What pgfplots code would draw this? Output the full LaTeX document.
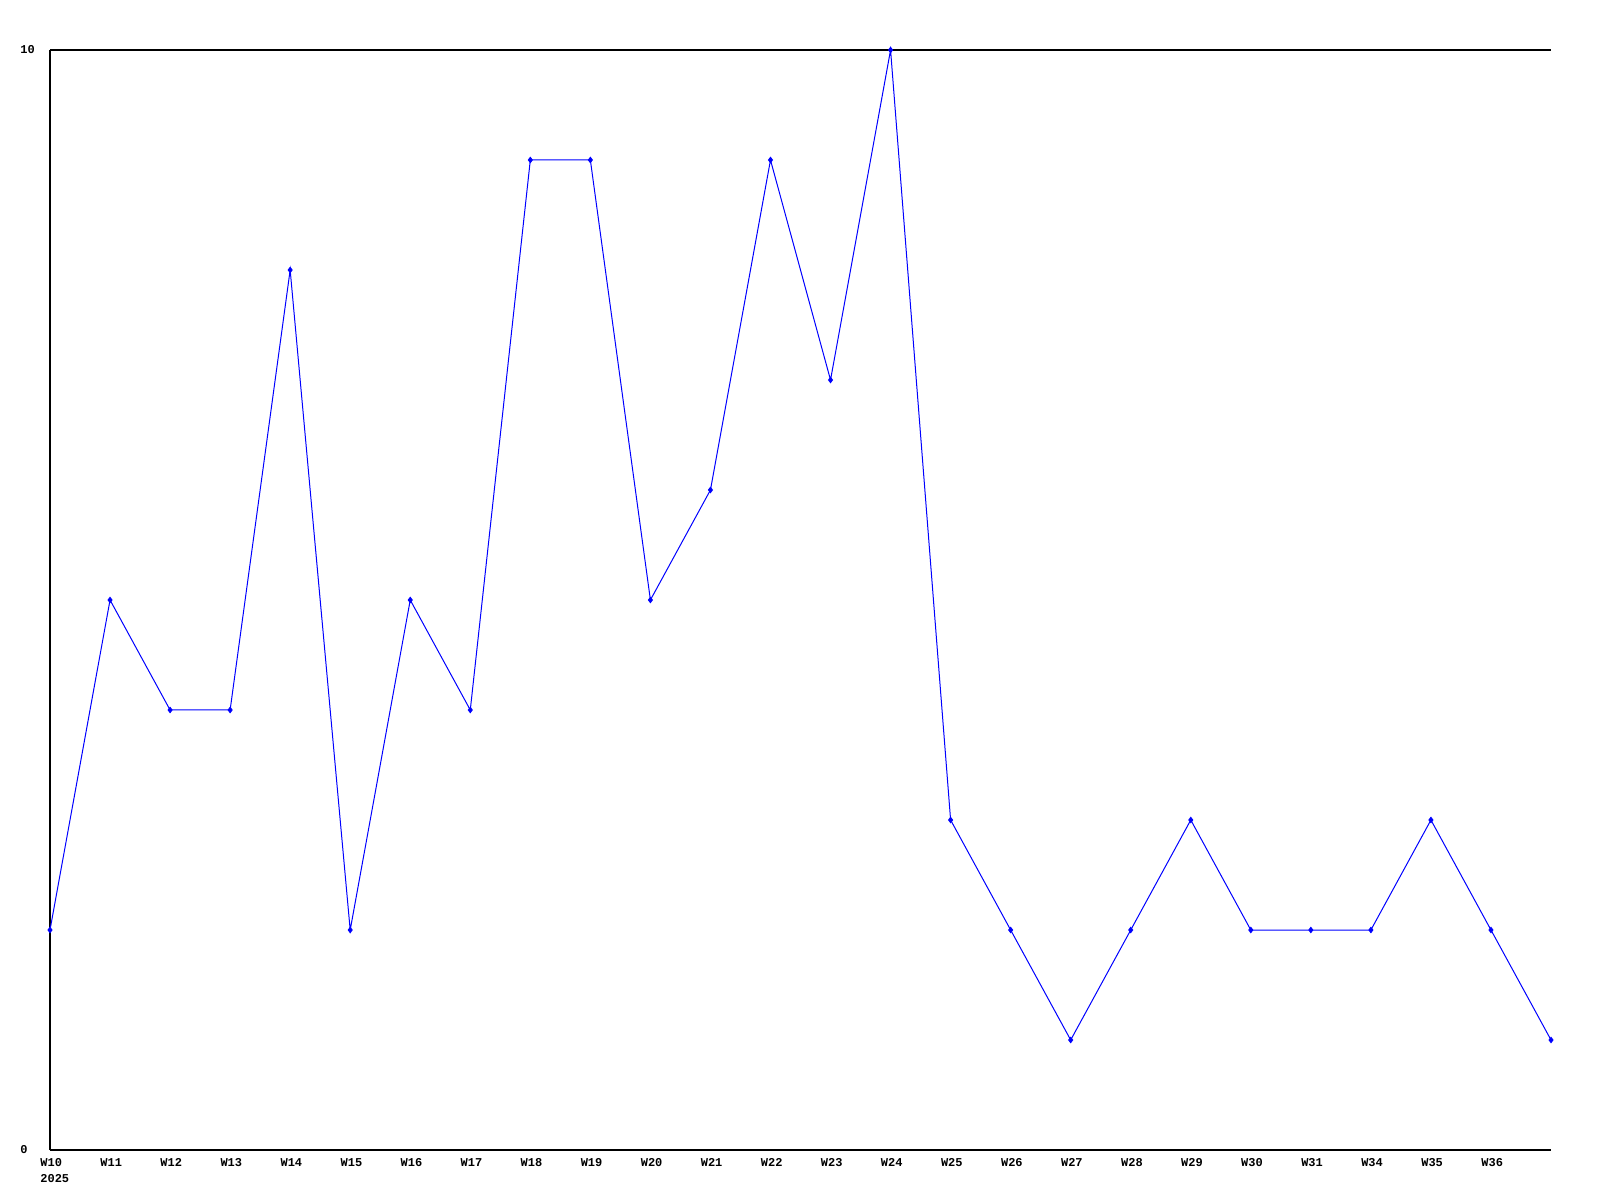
\documentclass[border=0pt]{standalone}
\usepackage{pgfplots}
\pgfplotsset{compat=1.18}
\usepackage{fontspec}
\setmainfont{Liberation Mono}
\begin{document}
\begin{tikzpicture}
\path[use as bounding box] (-25pt,-25pt) rectangle (775pt,575pt);
\begin{axis}[
  at={(0,0)}, anchor=south west,
  scale only axis, width=750.5pt, height=550pt,
  xmin=0, xmax=25, ymin=0, ymax=10,
  axis x line*=bottom, axis y line*=left,
  axis line style={-, black, line width=0.55pt},
  clip=false,
  major tick length=0pt,
  xtick={0,...,24},
  xticklabels={{W10\\2025},W11,W12,W13,W14,W15,W16,W17,W18,W19,W20,W21,W22,W23,W24,W25,W26,W27,W28,W29,W30,W31,W34,W35,W36},
  xticklabel style={anchor=north west, inner sep=0pt, xshift=-5pt, yshift=-4pt, align=left, font=\bfseries\fontsize{6}{8}\selectfont},
  ytick={0,10},
  yticklabels={0,10},
  yticklabel style={anchor=west, inner sep=0pt, xshift=-15pt, font=\bfseries\fontsize{6}{8}\selectfont},
  /pgf/number format/assume math mode=true,
]
\addplot[blue, line width=0.5pt, mark=diamond*, mark size=1.3pt, mark options={fill=blue}] coordinates {
(0,2) (1,5) (2,4) (3,4) (4,8) (5,2) (6,5) (7,4) (8,9) (9,9) (10,5) (11,6) (12,9) (13,7) (14,10) (15,3) (16,2) (17,1) (18,2) (19,3) (20,2) (21,2) (22,2) (23,3) (24,2) (25,1)
};
\draw[black, line width=0.55pt] (rel axis cs:0,1) -- (rel axis cs:1,1);
\end{axis}
\end{tikzpicture}
\end{document}
